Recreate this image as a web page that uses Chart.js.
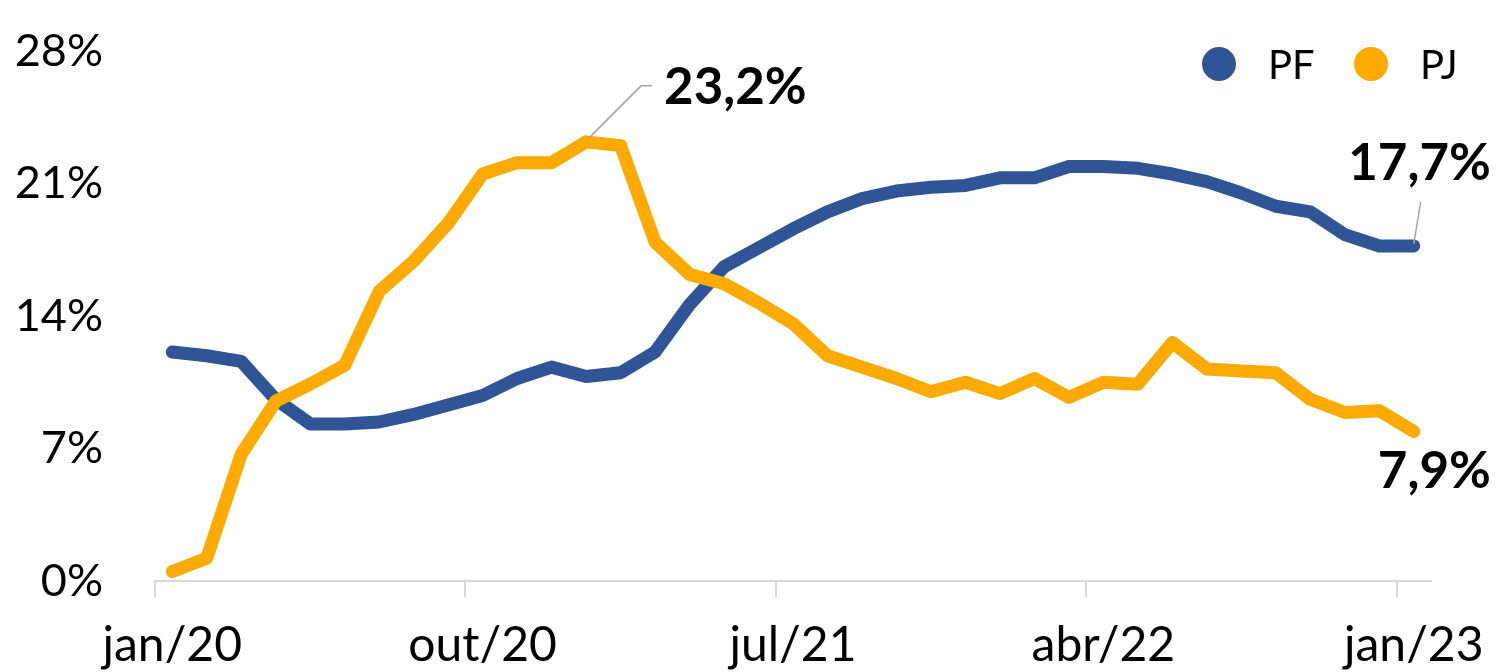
<!DOCTYPE html>
<html>
<head>
<meta charset="utf-8">
<script src="https://cdn.jsdelivr.net/npm/chart.js@4.4.1/dist/chart.umd.min.js"></script>
<style>
  html, body { margin: 0; padding: 0; background: #fff; }
  #wrap { width: 1497px; height: 672px; }
</style>
</head>
<body>
<div id="wrap"><canvas id="chart"></canvas></div>
<script>
const months = [
    'jan/20', 'fev/20', 'mar/20', 'abr/20', 'mai/20', 'jun/20', 'jul/20', 'ago/20', 'set/20', 'out/20', 'nov/20', 'dez/20',
    'jan/21', 'fev/21', 'mar/21', 'abr/21', 'mai/21', 'jun/21', 'jul/21', 'ago/21', 'set/21', 'out/21', 'nov/21', 'dez/21',
    'jan/22', 'fev/22', 'mar/22', 'abr/22', 'mai/22', 'jun/22', 'jul/22', 'ago/22', 'set/22', 'out/22', 'nov/22', 'dez/22',
    'jan/23'
];
const pfValues = [
    12.1, 11.9, 11.6, 9.6, 8.3, 8.3, 8.4, 8.8, 9.3, 9.8, 10.7, 11.3,
    10.8, 11.0, 12.1, 14.6, 16.6, 17.6, 18.6, 19.5, 20.2, 20.6, 20.8, 20.9,
    21.3, 21.3, 21.9, 21.9, 21.8, 21.5, 21.1, 20.5, 19.8, 19.5, 18.3, 17.7,
    17.7
];
const pjValues = [
    0.5, 1.2, 6.7, 9.5, 10.4, 11.4, 15.3, 16.9, 18.9, 21.5, 22.1, 22.1,
    23.2, 23.0, 17.9, 16.2, 15.7, 14.7, 13.6, 11.9, 11.3, 10.7, 10.0, 10.5,
    9.9, 10.7, 9.7, 10.5, 10.4, 12.6, 11.2, 11.1, 11.0, 9.6, 8.9, 9.0,
    7.9
];
const seriesNames = ['PF', 'PJ'];
const seriesColors = ['#2F5597', '#FFAA00'];
const labelEvery = 9;
const yTicks = [0, 7, 14, 21, 28];

const FONT = 'Lato, "Open Sans", sans-serif';

function pct(v) {
    return v.toFixed(1).replace('.', ',') + '%';
}

const annotatePlugin = {
    id: 'annotate',
    afterDatasetsDraw(chart) {
        const ctx = chart.ctx;
        const xs = chart.scales.x;
        const ys = chart.scales.y;
        ctx.save();

        let peak = 0;
        pjValues.forEach((v, i) => { if (v > pjValues[peak]) peak = i; });
        const last = pjValues.length - 1;

        const pkX = xs.getPixelForValue(peak), pkY = ys.getPixelForValue(pjValues[peak]);
        const endX = xs.getPixelForValue(last);
        const pfY = ys.getPixelForValue(pfValues[last]);
        const pjY = ys.getPixelForValue(pjValues[last]);

        // leader lines
        ctx.strokeStyle = '#A6A6A6';
        ctx.lineWidth = 1.5;
        ctx.beginPath();
        ctx.moveTo(pkX + 2, pkY - 3);
        ctx.lineTo(pkX + 55, pkY - 56);
        ctx.lineTo(pkX + 66, pkY - 56);
        ctx.stroke();
        ctx.beginPath();
        ctx.moveTo(endX, pfY - 2);
        ctx.lineTo(endX + 7, pfY - 44);
        ctx.stroke();

        ctx.fillStyle = '#000';
        ctx.font = 'bold 51px ' + FONT;
        ctx.textBaseline = 'middle';
        ctx.textAlign = 'left';
        ctx.fillText(pct(pjValues[peak]), pkX + 78, pkY - 54);
        ctx.textAlign = 'right';
        ctx.fillText(pct(pfValues[last]), endX + 77, pfY - 82);
        ctx.fillText(pct(pjValues[last]), endX + 77, pjY + 40);

        // legend
        const legendX = [1219, 1371];
        ctx.font = '40px ' + FONT;
        ctx.textAlign = 'left';
        seriesNames.forEach((name, k) => {
            ctx.fillStyle = seriesColors[k];
            ctx.beginPath();
            ctx.arc(legendX[k], 64, 17, 0, Math.PI * 2);
            ctx.fill();
            ctx.fillStyle = '#000';
            ctx.fillText(name, legendX[k] + 49, 66);
        });
        ctx.restore();
    }
};

const ctx = document.getElementById('chart').getContext('2d');
new Chart(ctx, {
    type: 'line',
    data: {
        labels: months,
        datasets: [
            {
                label: seriesNames[0],
                data: pfValues,
                borderColor: seriesColors[0],
                borderWidth: 13,
                borderCapStyle: 'round',
                borderJoinStyle: 'round',
                pointRadius: 0,
                tension: 0,
                order: 1
            },
            {
                label: seriesNames[1],
                data: pjValues,
                borderColor: seriesColors[1],
                borderWidth: 13,
                borderCapStyle: 'round',
                borderJoinStyle: 'round',
                pointRadius: 0,
                tension: 0,
                order: 0
            }
        ]
    },
    options: {
        responsive: true,
        maintainAspectRatio: false,
        animation: false,
        layout: {
            padding: { left: 0, right: 66, top: 51, bottom: 0 }
        },
        scales: {
            x: {
                offset: true,
                afterFit: scale => {
                    scale.height = 91;
                    scale.paddingLeft = 0;
                    scale.paddingRight = 0;
                },
                grid: {
                    display: true,
                    offset: true,
                    drawOnChartArea: false,
                    drawTicks: true,
                    tickLength: 16,
                    color: c => (c.index % labelEvery === 0 && c.index < months.length) ? '#D9D9D9' : 'rgba(0,0,0,0)',
                    lineWidth: 2
                },
                border: { display: true, color: '#D9D9D9', width: 2 },
                ticks: {
                    autoSkip: false,
                    maxRotation: 0,
                    padding: 20,
                    color: '#000',
                    font: { family: FONT, size: 48 },
                    callback: (value, index) => index % labelEvery === 0 ? months[index] : ''
                }
            },
            y: {
                min: 0,
                max: 28,
                afterBuildTicks: scale => {
                    scale.ticks = yTicks.map(v => ({ value: v }));
                },
                afterFit: scale => {
                    scale.width = 155;
                    // the label padding is horizontal only, do not reserve it above/below
                    scale.paddingTop = 0;
                    scale.paddingBottom = 0;
                },
                grid: { display: false, drawTicks: false },
                border: { display: false },
                ticks: {
                    padding: 52,
                    color: '#000',
                    font: { family: FONT, size: 45 },
                    callback: value => value + '%'
                }
            }
        },
        plugins: {
            legend: { display: false },
            tooltip: { enabled: false }
        }
    },
    plugins: [annotatePlugin]
});
</script>
</body>
</html>
